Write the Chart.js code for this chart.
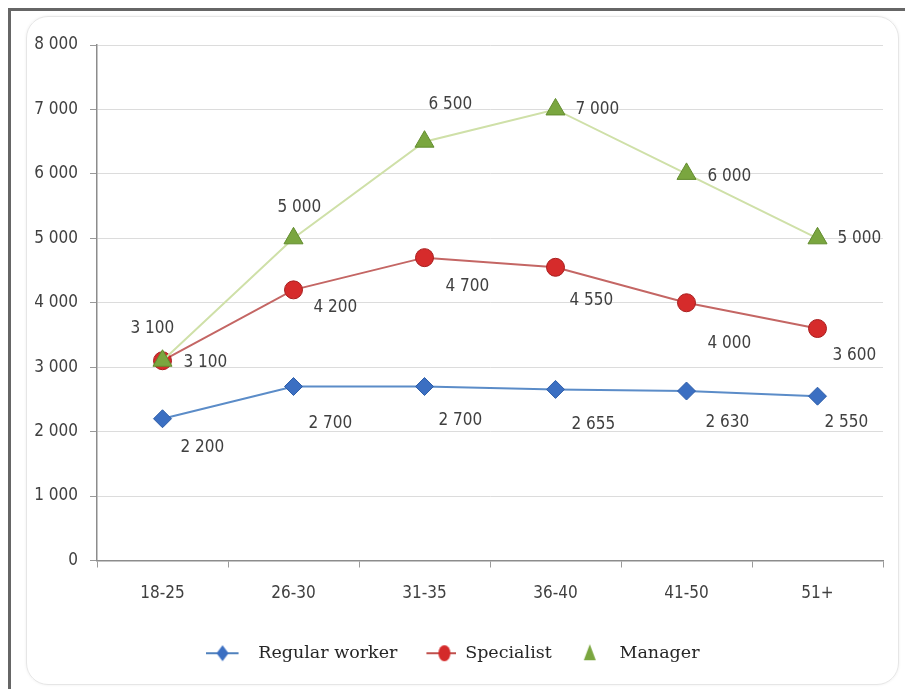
<!DOCTYPE html>
<html>
<head>
<meta charset="utf-8">
<script src="https://cdn.jsdelivr.net/npm/chart.js@4"></script>
<style>
  body { margin: 0; background: #fff; }
  #frame { position: absolute; left: 8px; top: 8px; width: 905px; height: 689px;
           border-left: 3px solid #666; border-top: 3px solid #666; }
  #card { position: absolute; left: 26px; top: 16px; width: 871px; height: 667px;
          border: 1.5px solid #e6e6e6; border-radius: 22px; box-shadow: 0 0 3px rgba(0,0,0,0.07); }
  #salaryChart { position: absolute; left: 0; top: 0; }
</style>
</head>
<body>
<div id="frame"></div>
<div id="card"></div>
<canvas id="salaryChart" width="905" height="689"></canvas>
<script>
const ageGroups = ['18-25', '26-30', '31-35', '36-40', '41-50', '51+'];
const regularWorker = [2200, 2700, 2700, 2655, 2630, 2550];
const specialist = [3100, 4200, 4700, 4550, 4000, 3600];
const manager = [3100, 5000, 6500, 7000, 6000, 5000];
const yTicks = [0, 1000, 2000, 3000, 4000, 5000, 6000, 7000, 8000];

const narrow = "'Liberation Sans Narrow', 'DejaVu Sans Condensed', 'Arial Narrow', sans-serif";

// label placement (left edge / vertical centre relative to the point)
const labelOffsets = [
  [[18, 29], [15, 37], [14, 34], [16, 35], [19, 32], [7, 26]],
  [[21, 2], [20, 18], [21, 29], [14, 33], [21, 41], [15, 27]],
  [[-32, -32], [-16, -31], [4, -37], [20, 0], [21, 3], [20, 0]]
];

const fmt = (v) => String(v).replace(/\B(?=(\d{3})+(?!\d))/g, ' ');

// small legend pictures: line + marker
function legendIcon(kind) {
  const c = document.createElement('canvas');
  c.width = 44; c.height = 22;
  const ctx = c.getContext('2d');
  const my = 11;
  if (kind === 'diamond') {
    ctx.strokeStyle = '#4f81bd'; ctx.lineWidth = 2;
    ctx.beginPath(); ctx.moveTo(0, my); ctx.lineTo(33, my); ctx.stroke();
    ctx.fillStyle = '#3b6fc2'; ctx.beginPath();
    ctx.moveTo(17, my - 8); ctx.lineTo(23, my); ctx.lineTo(17, my + 8); ctx.lineTo(11, my);
    ctx.closePath(); ctx.fill();
  } else if (kind === 'circle') {
    ctx.strokeStyle = '#c0504d'; ctx.lineWidth = 2;
    ctx.beginPath(); ctx.moveTo(14, my); ctx.lineTo(44, my); ctx.stroke();
    ctx.fillStyle = '#d42a2a'; ctx.beginPath();
    ctx.ellipse(32, my, 6, 8, 0, 0, Math.PI * 2); ctx.fill();
  } else {
    ctx.fillStyle = '#7aa63f'; ctx.beginPath();
    ctx.moveTo(23, my - 9); ctx.lineTo(29, my + 7); ctx.lineTo(17, my + 7);
    ctx.closePath(); ctx.fill();
  }
  return c;
}

const dataLabels = {
  id: 'dataLabels',
  afterDatasetsDraw(chart) {
    const ctx = chart.ctx;
    ctx.save();
    ctx.font = '17px ' + narrow;
    ctx.fillStyle = '#404040';
    ctx.textAlign = 'left';
    ctx.textBaseline = 'middle';
    chart.data.datasets.forEach((ds, di) => {
      const meta = chart.getDatasetMeta(di);
      meta.data.forEach((pt, i) => {
        const off = labelOffsets[di][i];
        ctx.fillText(fmt(ds.data[i]), pt.x + off[0], pt.y + off[1]);
      });
    });
    ctx.restore();
  }
};

const ctx = document.getElementById('salaryChart').getContext('2d');
new Chart(ctx, {
  type: 'line',
  data: {
    labels: ageGroups,
    datasets: [
      {
        label: 'Regular worker',
        data: regularWorker,
        borderColor: '#5b8cc8',
        borderWidth: 2,
        pointStyle: 'rectRot',
        pointRadius: 9,
        pointBackgroundColor: '#3b6fc2',
        pointBorderColor: '#2f5ea8',
        pointBorderWidth: 1,
        order: 2,
        legendIcon: legendIcon('diamond')
      },
      {
        label: 'Specialist',
        data: specialist,
        borderColor: '#c46664',
        borderWidth: 2,
        pointStyle: 'circle',
        pointRadius: 9,
        pointBackgroundColor: '#d62b2b',
        pointBorderColor: '#a81d1d',
        pointBorderWidth: 1,
        order: 1,
        legendIcon: legendIcon('circle')
      },
      {
        label: 'Manager',
        data: manager,
        borderColor: '#cfe0a8',
        borderWidth: 2,
        pointStyle: 'triangle',
        pointRadius: 11,
        pointBackgroundColor: '#7aa63f',
        pointBorderColor: '#628c2e',
        pointBorderWidth: 1,
        order: 0,
        legendIcon: legendIcon('triangle')
      }
    ]
  },
  options: {
    responsive: false,
    animation: false,
    layout: { padding: { left: 22, right: 22, top: 45, bottom: 17 } },
    plugins: {
      tooltip: { enabled: false },
      legend: {
        position: 'bottom',
        labels: {
          usePointStyle: true,
          pointStyleWidth: 44,
          padding: 15,
          color: '#262626',
          font: { family: "'DejaVu Serif', 'Liberation Serif', serif", size: 17.5 },
          generateLabels(chart) {
            return chart.data.datasets.map((ds, i) => ({
              text: ds.label,
              pointStyle: ds.legendIcon,
              fillStyle: ds.pointBackgroundColor,
              strokeStyle: ds.borderColor,
              lineWidth: 0,
              hidden: false,
              datasetIndex: i,
              fontColor: '#262626'
            }));
          }
        }
      }
    },
    scales: {
      x: {
        offset: true,
        grid: { offset: true, drawOnChartArea: false, drawTicks: true, tickLength: 7, color: '#9a9a9a' },
        border: { color: '#8c8c8c', width: 1.5 },
        ticks: { color: '#404040', padding: 16, font: { family: narrow, size: 17 } },
        afterFit(scale) { scale.height = 69; }
      },
      y: {
        min: 0,
        max: 8000,
        afterBuildTicks(scale) { scale.ticks = yTicks.map(v => ({ value: v })); },
        grid: { color: '#dcdcdc', tickLength: 7, tickColor: '#9a9a9a' },
        border: { color: '#8c8c8c', width: 1.5 },
        ticks: { color: '#404040', padding: 12, font: { family: narrow, size: 17 },
                 callback: (v) => fmt(v) },
        afterFit(scale) { scale.width = 75; }
      }
    }
  },
  plugins: [dataLabels]
});
</script>
</body>
</html>
